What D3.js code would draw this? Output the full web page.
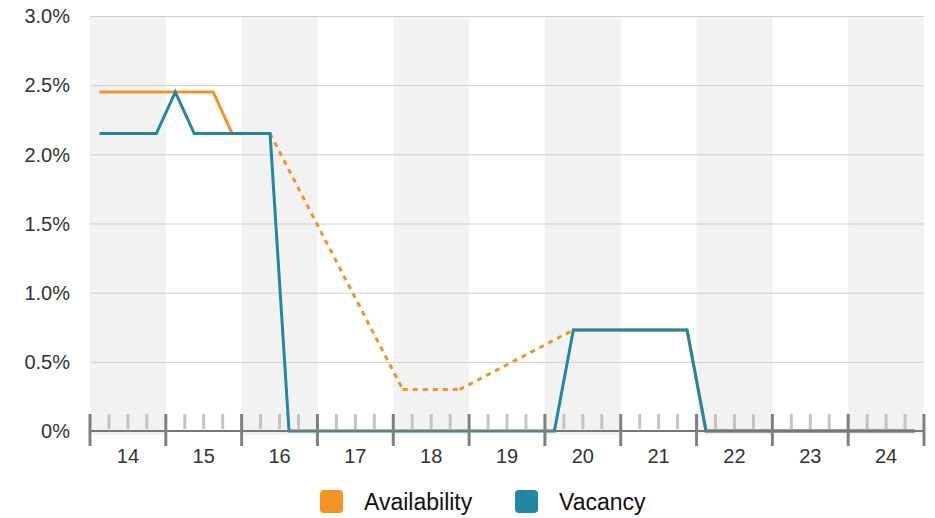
<!DOCTYPE html>
<html>
<head>
<meta charset="utf-8">
<script src="https://cdn.jsdelivr.net/npm/d3@7"></script>
<style>
  body { margin: 0; background: #fff; }
  svg { display: block; font-family: "Liberation Sans", Arial, sans-serif; }
</style>
</head>
<body>
<div id="container"></div>
<script>
let w = 935;
let h = 518;

// year labels on the x axis
let years = ["14", "15", "16", "17", "18", "19", "20", "21", "22", "23", "24"];
// y tick values (percent)
let yTicks = [0, 0.5, 1.0, 1.5, 2.0, 2.5, 3.0];

// quarterly values, 4 per year, null = no data
let availability = [
  2.45, 2.45, 2.45, 2.45,
  2.45, 2.45, 2.45, 2.15,
  2.15, 2.15, null, null,
  null, null, null, null,
  0.3, null, null, 0.3,
  null, null, null, null,
  null, 0.73, 0.73, 0.73,
  0.73, 0.73, 0.73, 0.73,
  0, 0, 0, 0,
  0, 0, 0, 0,
  0, 0, 0, 0
];
let vacancy = [
  2.15, 2.15, 2.15, 2.15,
  2.45, 2.15, 2.15, 2.15,
  2.15, 2.15, 0, 0,
  0, 0, 0, 0,
  0, 0, 0, 0,
  0, 0, 0, 0,
  0, 0.73, 0.73, 0.73,
  0.73, 0.73, 0.73, 0.73,
  0, 0, 0, 0,
  0, 0, 0, 0,
  0, 0, 0, 0
];

let seriesNames = ["Availability", "Vacancy"];
let colors = ["#f39325", "#2386a3"];

let plotLeft = 90, plotRight = 924, plotTop = 16, plotBottom = 431;

let viz = d3.select("#container")
  .append("svg")
    .attr("width", w)
    .attr("height", h);

// x in "quarter units": year i spans [4i, 4i+4]
let xScale = d3.scaleLinear().domain([0, years.length * 4]).range([plotLeft, plotRight]);
let yScale = d3.scaleLinear().domain([0, 3]).range([plotBottom, plotTop]);

// alternating year bands
viz.append("g").selectAll("rect")
  .data(years.filter((d, i) => i % 2 == 0))
  .enter().append("rect")
    .attr("x", (d) => xScale(years.indexOf(d) * 4))
    .attr("y", plotTop)
    .attr("width", xScale(4) - xScale(0))
    .attr("height", 435 - plotTop)
    .attr("fill", "#f2f2f2");

// horizontal grid lines
viz.append("g").selectAll("line")
  .data(yTicks.filter((d) => d > 0))
  .enter().append("line")
    .attr("x1", plotLeft)
    .attr("x2", plotRight)
    .attr("y1", (d) => yScale(d) + 0.5)
    .attr("y2", (d) => yScale(d) + 0.5)
    .attr("stroke", "#cfcfcf")
    .attr("stroke-width", 1);

// y labels
viz.append("g").selectAll("text")
  .data(yTicks)
  .enter().append("text")
    .attr("x", 70)
    .attr("y", (d) => yScale(d))
    .attr("dy", "0.36em")
    .attr("text-anchor", "end")
    .attr("font-size", 20)
    .attr("fill", "#333")
    .text((d) => d == 0 ? "0%" : d.toFixed(1) + "%");

// lines
let pts = (vals) => vals.map((v, i) => ({i: i, v: v}));

let line = d3.line()
  .defined((d) => d.v !== null)
  .x((d) => xScale(d.i + 0.5))
  .y((d) => yScale(d.v));

function drawSeries(vals, color) {
  let data = pts(vals);
  let defined = data.filter((d) => d.v !== null);
  // dotted connectors across gaps
  let gaps = [];
  for (let k = 1; k < defined.length; k++) {
    if (defined[k].i - defined[k - 1].i > 1) gaps.push([defined[k - 1], defined[k]]);
  }
  let g = viz.append("g");
  g.selectAll(".gap").data(gaps).enter().append("path")
    .attr("class", "gap")
    .attr("d", (d) => d3.line().x((p) => xScale(p.i + 0.5)).y((p) => yScale(p.v))(d))
    .attr("fill", "none")
    .attr("stroke", color)
    .attr("stroke-width", 3)
    .attr("stroke-dasharray", "5,5");
  g.append("path")
    .attr("d", line(data))
    .attr("fill", "none")
    .attr("stroke", color)
    .attr("stroke-width", 3)
    .attr("stroke-linejoin", "miter");
}

drawSeries(availability, colors[0]);
drawSeries(vacancy, colors[1]);

// x axis
let axis = viz.append("g");
let minor = d3.range(years.length * 4).filter((d) => d % 4 != 0);
axis.selectAll(".minor").data(minor).enter().append("line")
  .attr("x1", (d) => xScale(d))
  .attr("x2", (d) => xScale(d))
  .attr("y1", 414)
  .attr("y2", 429)
  .attr("stroke", "#c4c4c4")
  .attr("stroke-width", 3);
axis.append("line")
  .attr("x1", plotLeft)
  .attr("x2", plotRight)
  .attr("y1", plotBottom)
  .attr("y2", plotBottom)
  .attr("stroke", "#777")
  .attr("stroke-width", 2);
axis.selectAll(".major").data(d3.range(years.length + 1)).enter().append("line")
  .attr("x1", (d) => xScale(d * 4))
  .attr("x2", (d) => xScale(d * 4))
  .attr("y1", 414)
  .attr("y2", 446)
  .attr("stroke", "#808080")
  .attr("stroke-width", 3);
axis.selectAll("text").data(years).enter().append("text")
  .attr("x", (d, i) => xScale(i * 4 + 2))
  .attr("y", 463)
  .attr("text-anchor", "middle")
  .attr("font-size", 20)
  .attr("fill", "#333")
  .text((d) => d);

// legend
let legendX = [320, 515];
let legend = viz.append("g").selectAll("g")
  .data(seriesNames)
  .enter().append("g")
    .attr("transform", (d, i) => "translate(" + legendX[i] + ",490)");
legend.append("rect")
  .attr("width", 23)
  .attr("height", 23)
  .attr("rx", 4)
  .attr("fill", (d, i) => colors[i]);
legend.append("text")
  .attr("x", 44)
  .attr("y", 20)
  .attr("font-size", 23)
  .attr("fill", "#111")
  .text((d) => d);
</script>
</body>
</html>
